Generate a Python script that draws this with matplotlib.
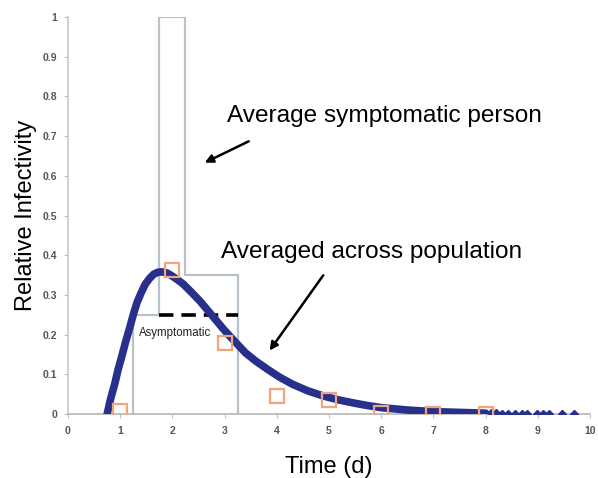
import matplotlib.pyplot as plt

# averaged-across-population curve
curve_t = [0.75, 0.82, 0.90, 0.96, 1.03, 1.10, 1.19, 1.25, 1.32, 1.40, 1.48, 1.56,
           1.64, 1.72, 1.80, 1.90, 1.99, 2.10, 2.21, 2.37, 2.53, 2.69, 2.85, 2.97,
           3.10, 3.25, 3.40, 3.60, 3.84, 4.05, 4.30, 4.60, 4.90, 5.20, 5.50, 5.75,
           6.00, 6.25, 6.50, 6.75, 7.00, 7.25, 7.50, 7.75, 8.00]
curve_y = [0.0, 0.040, 0.078, 0.112, 0.145, 0.180, 0.221, 0.250, 0.280, 0.305, 0.327, 0.341,
           0.352, 0.357, 0.358, 0.355, 0.348, 0.338, 0.327, 0.306, 0.284, 0.259, 0.234, 0.215,
           0.196, 0.175, 0.154, 0.133, 0.111, 0.093, 0.075, 0.058, 0.045, 0.035, 0.027, 0.021,
           0.016, 0.013, 0.010, 0.008, 0.006, 0.005, 0.004, 0.003, 0.002]

# sparse tail samples
tail_t = [8.1, 8.2, 8.32, 8.43, 8.56, 8.70, 8.79, 8.99, 9.10, 9.21, 9.46, 9.69]
tail_y = [0.002, 0.002, 0.001, 0.001, 0.001, 0.001, 0.001, 0.0, 0.0, 0.0, 0.0, 0.0]

# observed points (open squares)
obs_t = [1, 2, 3, 4, 5, 6, 7, 8]
obs_y = [0.008, 0.362, 0.178, 0.046, 0.034, 0.003, 0.0, 0.0]

# step profiles
asym_t = [1.25, 1.25, 1.75]
asym_y = [0.0, 0.25, 0.25]
sym_t = [1.75, 1.75, 2.25, 2.25, 3.25, 3.25]
sym_y = [0.25, 1.0, 1.0, 0.35, 0.35, 0.0]
avg_t = [1.75, 3.25]
avg_y = [0.25, 0.25]

plt.rcParams["font.family"] = ["Liberation Sans", "DejaVu Sans"]

fig = plt.figure(figsize=(5.98, 4.78), dpi=100)
ax = fig.add_axes([0.1137, 0.1339, 0.873, 0.8305])

box_color = "#b7c1c9"
ax.plot(asym_t, asym_y, color=box_color, lw=1.6)
ax.plot(sym_t, sym_y, color=box_color, lw=1.6)
ax.plot(avg_t, avg_y, color="black", lw=2.6, dashes=(4, 2.2))

blue = "#27308a"
ax.plot(curve_t, curve_y, color=blue, lw=5.5, solid_capstyle="round",
        solid_joinstyle="round", zorder=3)
ax.plot(tail_t, tail_y, ls="none", marker="D", ms=4.5, color=blue, zorder=3)

ax.plot(obs_t, obs_y, ls="none", marker="s", ms=9.5, mfc="none", mec="#f4a37f",
        mew=1.6, zorder=4)

ax.text(2.05, 0.204, "Asymptomatic", fontsize=8.3, ha="center", va="center", color="#222222")
ax.text(3.05, 0.75, "Average symptomatic person", fontsize=17.6, ha="left", va="center")
ax.text(2.93, 0.408, "Averaged across population", fontsize=17.6, ha="left", va="center")
ax.annotate("", xy=(2.57, 0.630), xytext=(3.51, 0.690),
            arrowprops=dict(arrowstyle="-|>", color="black", lw=1.8, mutation_scale=12))
ax.annotate("", xy=(3.83, 0.154), xytext=(4.92, 0.355),
            arrowprops=dict(arrowstyle="-|>", color="black", lw=1.8, mutation_scale=12))

ax.set_xlim(0, 10)
ax.set_ylim(0, 1)
ax.set_xticks(range(0, 11))
ax.set_yticks([0, 0.1, 0.2, 0.3, 0.4, 0.5, 0.6, 0.7, 0.8, 0.9, 1])
ax.set_yticklabels(["0", "0.1", "0.2", "0.3", "0.4", "0.5", "0.6", "0.7", "0.8", "0.9", "1"])
ax.tick_params(axis="both", labelsize=7.5, labelcolor="#555555", length=3,
               color="#b7c1c9")
for lab in ax.get_xticklabels() + ax.get_yticklabels():
    lab.set_fontweight("bold")
ax.tick_params(axis="x", pad=6)
ax.tick_params(axis="y", pad=5)

ax.spines["top"].set_visible(False)
ax.spines["right"].set_visible(False)
ax.spines["left"].set_color("#bccad4")
ax.spines["bottom"].set_color("#b5b5b5")
ax.spines["left"].set_linewidth(1.2)
ax.spines["bottom"].set_linewidth(1.2)

ax.set_xlabel("Time (d)", fontsize=17, labelpad=14)
ax.set_ylabel("Relative Infectivity", fontsize=17, labelpad=4)

fig.savefig("out.png", dpi=100)
